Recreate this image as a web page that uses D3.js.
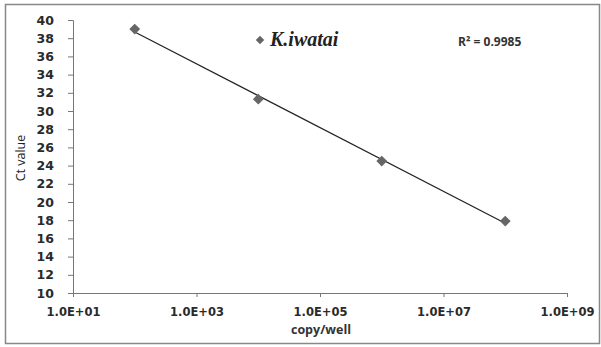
<!DOCTYPE html>
<html>
<head>
<meta charset="UTF-8">
<script src="https://d3js.org/d3.v7.min.js"></script>
<style>
    body { margin: 0; background: #fff; }
</style>
</head>
<body>
<svg id="chart" width="601" height="347"></svg>
<script>
    // copies per well and measured Ct
    const copies = [1e2, 1e4, 1e6, 1e8];
    const ctValues = [39.0, 31.3, 24.5, 17.9];
    const xTicks = [1e1, 1e3, 1e5, 1e7, 1e9];
    const yTicks = [10, 12, 14, 16, 18, 20, 22, 24, 26, 28, 30, 32, 34, 36, 38, 40];
    const seriesName = "K.iwatai";
    const r2Label = "R² = 0.9985";

    const svg = d3.select("#chart");
    const margin = {left: 73, right: 34, top: 20, bottom: 54};
    const w = 601, h = 347;
    const sans = "'Open Sans', sans-serif";
    const tickFont = "'DejaVu Sans', sans-serif";

    svg.append("rect")
        .attr("x", 5.5).attr("y", 4.5)
        .attr("width", 594).attr("height", 339)
        .attr("fill", "#fff").attr("stroke", "#888").attr("stroke-width", 1.5);

    const x = d3.scaleLog().domain([1e1, 1e9]).range([margin.left, w - margin.right]);
    const y = d3.scaleLinear().domain([10, 40]).range([h - margin.bottom, margin.top]);

    const xAxis = svg.append("g")
        .attr("transform", `translate(0,${h - margin.bottom})`)
        .call(d3.axisBottom(x).tickValues(xTicks).tickSize(4)
            .tickFormat(d => "1.0E+" + String(Math.round(Math.log10(d))).padStart(2, "0")));
    xAxis.selectAll(".tick text")
        .style("font-family", tickFont).style("font-weight", "bold").style("font-size", "11.5px")
        .attr("fill", "#2a2a2a").attr("dy", "1.35em");

    const yAxis = svg.append("g")
        .attr("transform", `translate(${margin.left},0)`)
        .call(d3.axisLeft(y).tickValues(yTicks).tickSize(5));
    yAxis.selectAll(".tick text")
        .style("font-family", tickFont).style("font-weight", "bold").style("font-size", "12.5px")
        .attr("fill", "#2a2a2a").attr("x", -19);

    svg.selectAll(".domain, .tick line").attr("stroke", "#777");

    // linear fit in log space
    const lx = copies.map(Math.log10);
    const mx = d3.mean(lx), my = d3.mean(ctValues);
    const slope = d3.sum(lx, (v, i) => (v - mx) * (ctValues[i] - my)) / d3.sum(lx, v => (v - mx) ** 2);
    const icpt = my - slope * mx;
    const fitEnds = [copies[0], copies[copies.length - 1]];

    svg.append("line")
        .attr("x1", x(fitEnds[0])).attr("y1", y(icpt + slope * Math.log10(fitEnds[0])))
        .attr("x2", x(fitEnds[1])).attr("y2", y(icpt + slope * Math.log10(fitEnds[1])))
        .attr("stroke", "#222").attr("stroke-width", 1.2);

    const diamond = d3.symbol().type(d3.symbolSquare).size(58);
    svg.selectAll(".pt").data(copies).enter().append("path")
        .attr("class", "pt")
        .attr("d", diamond)
        .attr("transform", (d, i) => `translate(${x(d)},${y(ctValues[i])}) rotate(45)`)
        .attr("fill", "#666");

    // legend
    svg.append("path").attr("d", d3.symbol().type(d3.symbolSquare).size(36))
        .attr("transform", "translate(260,40) rotate(45)").attr("fill", "#666");
    svg.append("text").attr("x", 270).attr("y", 46)
        .style("font-family", "'Liberation Serif', serif").style("font-style", "italic")
        .style("font-weight", "bold").style("font-size", "20px").attr("fill", "#222")
        .text(seriesName);

    svg.append("text").attr("x", 458).attr("y", 46)
        .style("font-family", sans).style("font-weight", "bold")
        .style("font-size", "12px").attr("fill", "#333")
        .text(r2Label);

    svg.append("text")
        .attr("transform", "translate(25,158) rotate(-90)")
        .attr("text-anchor", "middle")
        .style("font-family", sans).style("font-size", "12.5px").attr("fill", "#222")
        .text("Ct value");

    svg.append("text").attr("x", 321).attr("y", 334)
        .attr("text-anchor", "middle")
        .style("font-family", sans).style("font-weight", "bold")
        .style("font-size", "12.5px").attr("fill", "#333")
        .text("copy/well");
</script>
</body>
</html>
